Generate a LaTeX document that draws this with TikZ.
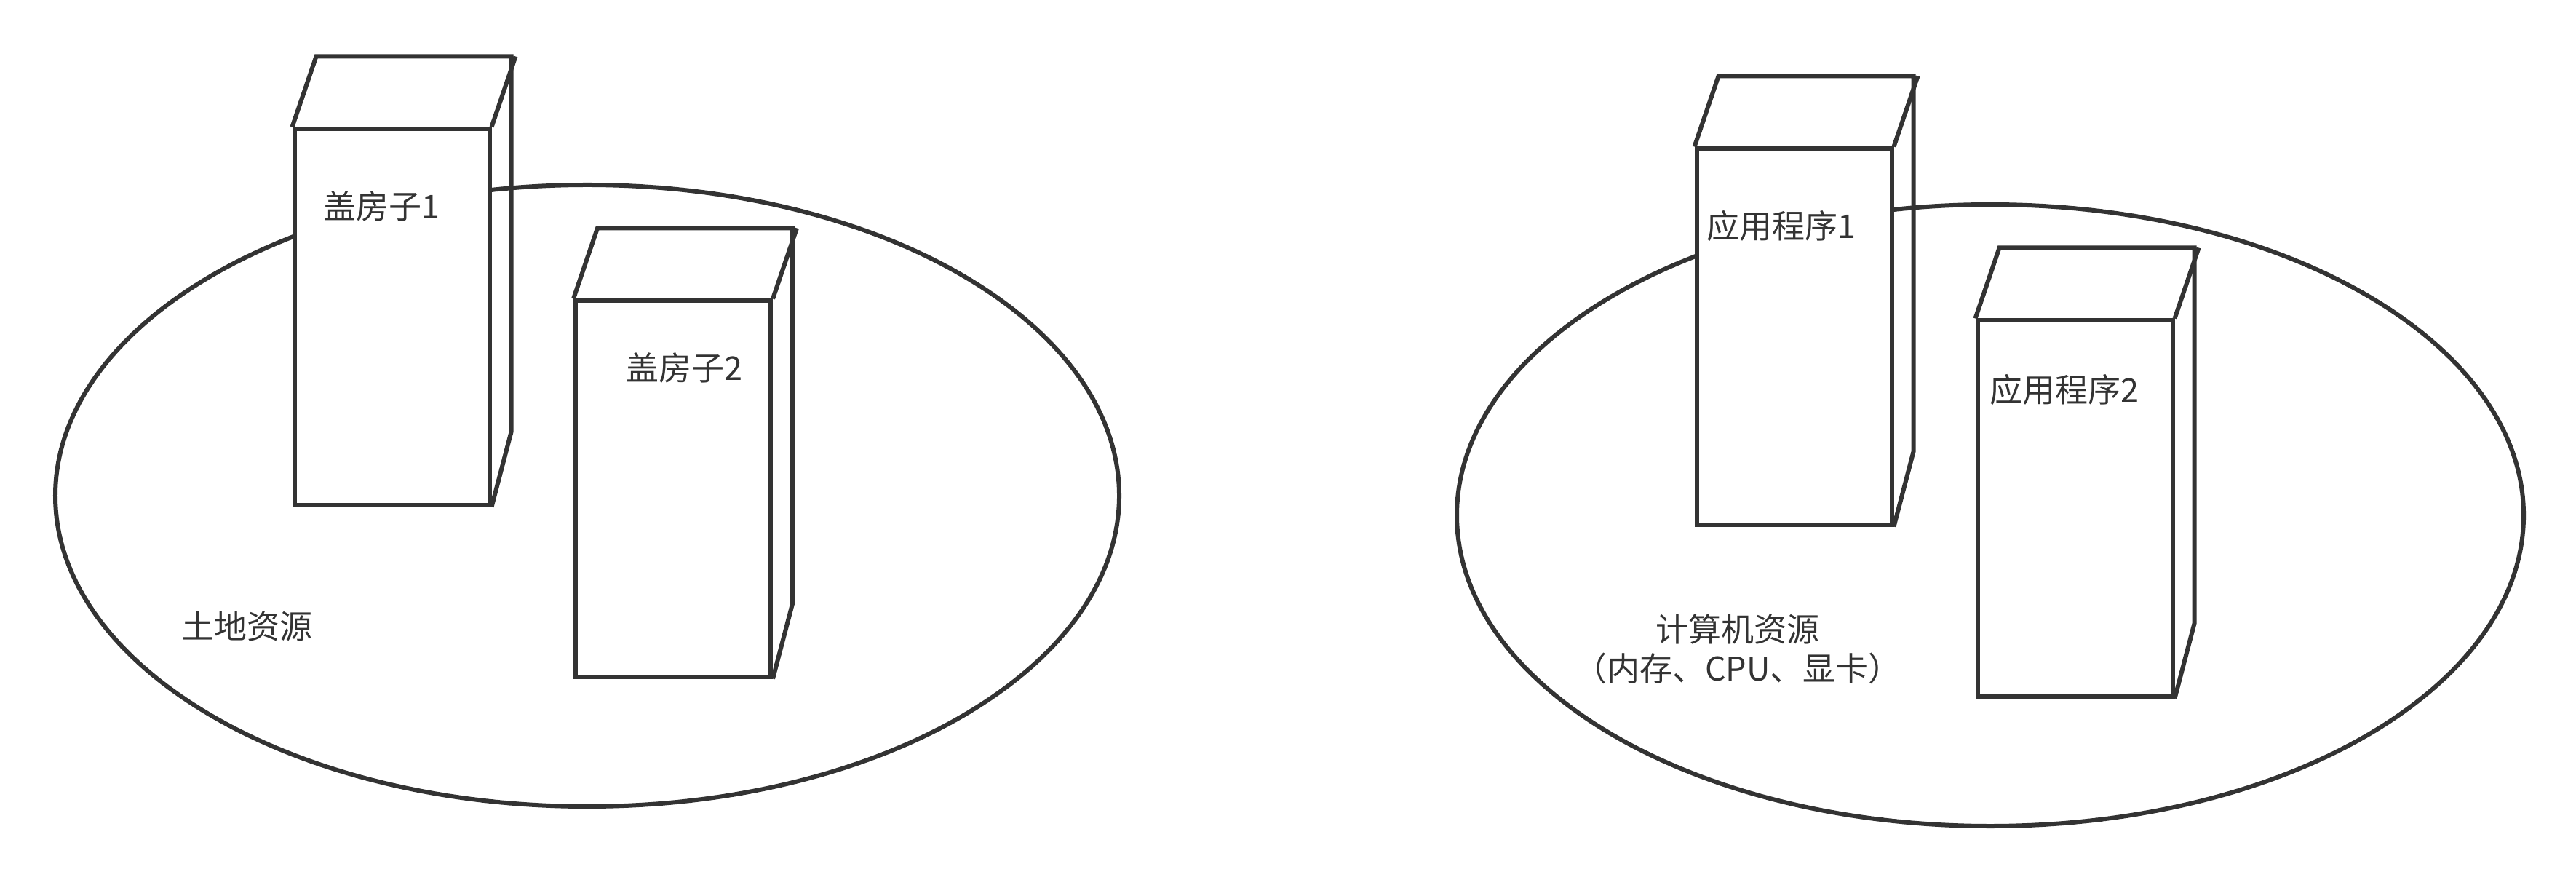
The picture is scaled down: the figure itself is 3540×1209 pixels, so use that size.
\documentclass[tikz,border=0pt]{standalone}
\usepackage{fontspec}
\newfontfamily\cjk{Noto Sans CJK SC}
\usetikzlibrary{shapes.geometric}
\definecolor{ink}{HTML}{333333}
\tikzset{
  region/.style={ellipse, draw=ink, line width=1.2pt, inner sep=0pt},
  frontface/.style={rectangle, draw=ink, fill=white, line width=1.2pt, inner sep=0pt,
    minimum width=53.6pt, minimum height=103.2pt},
  edge3d/.style={draw=ink, line width=1.2pt},
  lbl/.style={font=\cjk\fontsize{9pt}{10.8pt}\selectfont, text=ink, inner sep=0pt}
}
\newcommand{\cubesides}[1]{%
  \draw[edge3d] (#1.north west) -- ++(33,-97) -- ++(268,0) -- ++(0,516) -- (#1.south east);
  \draw[edge3d] (#1.north east) -- ++(33,-97);
}
\begin{document}
\begin{tikzpicture}[x=0.2pt,y=-0.2pt]
\useasboundingbox (0,0) rectangle (3540,1209);
% regions
\node[region, minimum width=292.4pt, minimum height=170.8pt] (land) at (807,681) {};
\node[region, minimum width=293.2pt, minimum height=170.8pt] (comp) at (2735,708) {};
% houses
\node[frontface] (h1) at (538.5,435.5) {};
\cubesides{h1}
\node[frontface] (h2) at (925,671.5) {};
\cubesides{h2}
% apps
\node[frontface] (a1) at (2465.5,462.5) {};
\cubesides{a1}
\node[frontface] (a2) at (2851.5,698.5) {};
\cubesides{a2}
% labels
\node[lbl] (th1) at (524,283) {盖房子1};
\node[lbl] (th2) at (940,505) {盖房子2};
\node[lbl] (ta1) at (2448,310) {应用程序1};
\node[lbl] (ta2) at (2837,535) {应用程序2};
\node[lbl] (tland) at (339,860) {土地资源};
\node[lbl, align=center] (tcomp) at (2388,892) {计算机资源\\（内存、CPU、显卡）};
\end{tikzpicture}
\end{document}
